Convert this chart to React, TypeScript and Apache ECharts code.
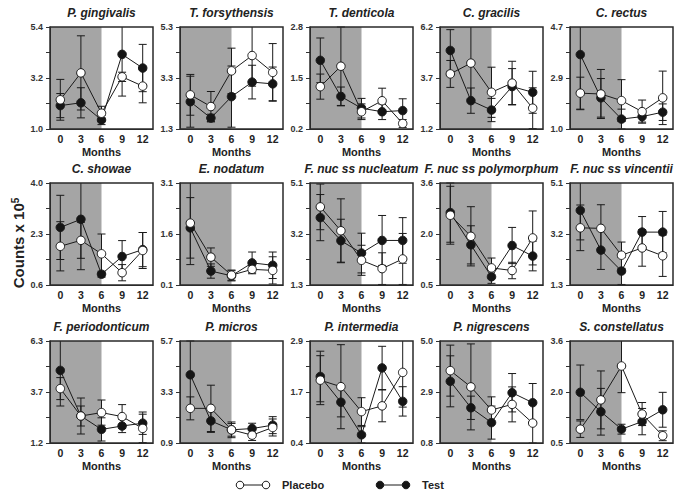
import React, { useEffect, useRef } from "react";
import * as echarts from "echarts";

const months = [0, 3, 6, 9, 12];
const taxa = [
  "P. gingivalis", "T. forsythensis", "T. denticola", "C. gracilis", "C. rectus",
  "C. showae", "E. nodatum", "F. nuc ss nucleatum", "F. nuc ss polymorphum", "F. nuc ss vincentii",
  "F. periodonticum", "P. micros", "P. intermedia", "P. nigrescens", "S. constellatus",
];
const yTickLabels = [
  ["1.0", "3.2", "5.4"], ["1.3", "3.3", "5.3"], ["0.2", "1.5", "2.8"], ["1.2", "3.7", "6.2"], ["1.0", "2.9", "4.7"],
  ["0.6", "2.3", "4.0"], ["0.1", "1.6", "3.1"], ["1.3", "3.2", "5.1"], ["0.5", "2.0", "3.6"], ["1.3", "3.2", "5.1"],
  ["1.2", "3.7", "6.3"], ["0.9", "3.3", "5.7"], ["0.4", "1.7", "2.9"], ["0.8", "2.9", "5.0"], ["0.5", "2.0", "3.6"],
];
const placeboMean = [
  [2.26, 3.42, 1.68, 3.25, 2.85],
  [2.64, 2.18, 3.58, 4.18, 3.52],
  [1.28, 1.80, 0.64, 0.92, 0.34],
  [3.90, 4.43, 3.00, 3.45, 2.22],
  [2.30, 2.27, 2.03, 1.63, 2.13],
  [1.89, 2.09, 1.64, 1.01, 1.75],
  [1.92, 0.92, 0.39, 0.56, 0.53],
  [4.21, 3.32, 2.22, 1.91, 2.27],
  [2.62, 1.98, 1.02, 0.94, 1.93],
  [3.43, 3.41, 2.41, 2.68, 2.39],
  [3.92, 2.55, 2.72, 2.52, 1.93],
  [2.53, 2.53, 1.52, 1.27, 1.63],
  [1.94, 1.78, 1.17, 1.31, 2.13],
  [3.78, 3.11, 2.16, 2.39, 1.62],
  [0.92, 1.81, 2.84, 1.38, 0.72],
];
const placeboErr = [
  [0.88, 1.6, 0.3, 0.2, 0.72],
  [0.8, 0.59, 0.89, 1.2, 1.13],
  [0.32, 1.0, 0.2, 0.32, 0.1],
  [0.66, 1.8, 1.23, 1.07, 1.0],
  [0.58, 0.89, 0.76, 0.42, 0.97],
  [0.82, 0.6, 0.66, 0.27, 0.6],
  [1.22, 0.27, 0.15, 0.1, 0.4],
  [0.85, 1.19, 0.56, 0.59, 0.95],
  [0.88, 0.9, 0.3, 0.25, 0.82],
  [0.85, 0.88, 0.49, 0.68, 0.77],
  [0.55, 0.5, 0.63, 0.6, 0.71],
  [0.54, 1.09, 0.3, 0.25, 0.4],
  [0.6, 1.03, 0.34, 0.39, 0.85],
  [1.05, 1.77, 0.54, 0.72, 0.82],
  [0.25, 0.88, 0.81, 0.35, 0.15],
];
const testMean = [
  [2.01, 2.13, 1.39, 4.22, 3.63],
  [2.37, 1.73, 2.57, 3.14, 3.07],
  [1.95, 1.03, 0.73, 0.64, 0.67],
  [5.05, 2.59, 2.13, 3.28, 3.0],
  [3.7, 2.13, 1.36, 1.45, 1.61],
  [2.52, 2.79, 0.96, 1.55, 1.78],
  [1.78, 0.51, 0.37, 0.75, 0.68],
  [3.81, 2.95, 2.49, 2.96, 2.96],
  [2.7, 1.72, 0.75, 1.7, 1.38],
  [4.08, 2.6, 1.82, 3.27, 3.27],
  [4.83, 2.55, 1.88, 2.05, 2.19],
  [4.11, 1.94, 1.52, 1.58, 1.74],
  [2.03, 1.4, 0.6, 2.24, 1.42],
  [3.34, 2.25, 1.64, 2.87, 2.46],
  [2.04, 1.45, 0.92, 1.15, 1.51],
];
const testErr = [
  [0.52, 0.65, 0.2, 1.8, 1.02],
  [1.0, 0.15, 1.2, 0.66, 0.66],
  [0.57, 0.24, 0.25, 0.2, 0.3],
  [1.02, 0.62, 0.57, 0.88, 1.03],
  [2.0, 0.7, 0.36, 0.2, 0.3],
  [1.07, 1.68, 0.1, 0.53, 0.57],
  [0.89, 0.21, 0.15, 0.32, 0.39],
  [0.86, 0.8, 0.74, 0.93, 0.85],
  [0.9, 0.58, 0.2, 0.55, 0.45],
  [1.1, 0.72, 0.5, 0.58, 0.77],
  [1.78, 0.9, 0.58, 0.33, 0.56],
  [1.6, 0.54, 0.37, 0.25, 0.4],
  [0.62, 0.36, 0.2, 0.53, 0.36],
  [1.05, 0.48, 0.68, 0.79, 0.79],
  [0.83, 0.71, 0.15, 0.4, 0.53],
];
const seriesNames = ["Placebo", "Test"];
const shadeEnd = 6;

const FONT = "'Liberation Sans', Arial, Helvetica, sans-serif";
const INK = "#222";
const GRID_LEFTS = [50, 180, 310, 440, 570];
const GRID_TOPS = [27, 183, 341];
const GW = 103;
const GH = 102;
const X_MIN = -1.5;
const X_MAX = 13.5;

function errRender(params: any, api: any) {
  const x = api.value(0);
  const lo = api.value(1);
  const hi = api.value(2);
  const top = api.coord([x, hi]);
  const bot = api.coord([x, lo]);
  const cs = params.coordSys;
  const yT = cs.y;
  const yB = cs.y + cs.height;
  let y1 = top[1];
  let y2 = bot[1];
  const capTop = y1 >= yT - 0.5;
  const capBot = y2 <= yB + 0.5;
  y1 = Math.max(y1, yT);
  y2 = Math.min(y2, yB);
  const cx = top[0];
  const hw = 4;
  const st = { stroke: "#1a1a1a", lineWidth: 1 };
  const children: any[] = [
    { type: "line", shape: { x1: cx, y1, x2: cx, y2 }, style: st },
  ];
  if (capTop) children.push({ type: "line", shape: { x1: cx - hw, y1, x2: cx + hw, y2: y1 }, style: st });
  if (capBot) children.push({ type: "line", shape: { x1: cx - hw, y1: y2, x2: cx + hw, y2 }, style: st });
  return { type: "group", children };
}

function buildOption() {
  const grids: any[] = [];
  const xAxes: any[] = [];
  const yAxes: any[] = [];
  const series: any[] = [];
  const graphics: any[] = [];

  taxa.forEach((name, i) => {
    const row = Math.floor(i / 5);
    const col = i % 5;
    const left = GRID_LEFTS[col];
    const top = GRID_TOPS[row];
    const labels = yTickLabels[i];
    const yMin = parseFloat(labels[0]);
    const yMax = parseFloat(labels[2]);
    const q = (yMax - yMin) / 4;
    const labelVals = [yMin, yMin + 2 * q, yMax];
    const tickVals = [yMin, yMin + q, yMin + 2 * q, yMin + 3 * q, yMax];

    grids.push({ left, top, width: GW, height: GH, containLabel: false, outerBoundsMode: "none", show: false });
    xAxes.push({
      type: "value",
      gridIndex: i,
      min: X_MIN,
      max: X_MAX,
      z: 5,
      axisLine: { show: true, onZero: false, lineStyle: { color: "#333", width: 1 } },
      axisTick: { show: false },
      splitLine: { show: false },
      axisLabel: {
        customValues: months,
        fontFamily: FONT,
        fontSize: 10.5,
        fontWeight: "bold",
        color: INK,
        margin: 4,
      },
      name: "Months",
      nameLocation: "middle",
      nameGap: 17,
      nameTextStyle: { fontFamily: FONT, fontSize: 11, fontWeight: "bold", color: INK },
    });
    yAxes.push({
      type: "value",
      gridIndex: i,
      min: yMin,
      max: yMax,
      z: 5,
      axisLine: { show: true, onZero: false, lineStyle: { color: "#333", width: 1 } },
      axisTick: { show: true, customValues: tickVals, length: 4, lineStyle: { color: "#333" } },
      splitLine: { show: false },
      axisLabel: {
        customValues: labelVals,
        fontFamily: FONT,
        fontSize: 9,
        fontWeight: "bold",
        color: "#333",
        margin: 7,
        formatter: (v: number) => {
          let best = 0;
          labelVals.forEach((lv, k) => {
            if (Math.abs(lv - v) < Math.abs(labelVals[best] - v)) best = k;
          });
          return labels[best];
        },
      },
    });

    const means = [placeboMean[i], testMean[i]];
    const errs = [placeboErr[i], testErr[i]];

    means.forEach((m, s) => {
      series.push({
        type: "custom",
        name: seriesNames[s] + " error",
        xAxisIndex: i,
        yAxisIndex: i,
        z: 3,
        silent: true,
        renderItem: errRender,
        encode: { x: 0, y: [1, 2] },
        data: months.map((mo, k) => [mo, m[k] - errs[s][k], m[k] + errs[s][k]]),
      });
    });

    means.forEach((m, s) => {
      const isTest = s === 1;
      const ser: any = {
        type: "line",
        name: seriesNames[s],
        xAxisIndex: i,
        yAxisIndex: i,
        z: isTest ? 4 : 5,
        symbol: "circle",
        symbolSize: 8.5,
        showAllSymbol: true,
        clip: false,
        lineStyle: { color: "#1a1a1a", width: 1 },
        itemStyle: {
          color: isTest ? "#151515" : "#ffffff",
          borderColor: "#1a1a1a",
          borderWidth: 1,
        },
        data: months.map((mo, k) => [mo, m[k]]),
      };
      if (!isTest) {
        ser.markArea = {
          silent: true,
          itemStyle: { color: "#a5a5a5" },
          data: [[{ xAxis: X_MIN }, { xAxis: shadeEnd }]],
        };
      }
      series.push(ser);
    });

    graphics.push({
      type: "rect",
      z: 100,
      silent: true,
      shape: { x: left, y: top, width: GW, height: GH },
      style: { fill: "none", stroke: "#2a2a2a", lineWidth: 1.5 },
    });
    graphics.push({
      type: "text",
      z: 100,
      x: left + GW / 2,
      y: top - 14,
      style: {
        text: name,
        fontFamily: FONT,
        fontSize: 12,
        fontWeight: "bold",
        fontStyle: "italic",
        fill: INK,
        align: "center",
        verticalAlign: "middle",
      },
    });
  });

  graphics.push({
    type: "text",
    z: 100,
    x: 18,
    y: 243,
    rotation: Math.PI / 2,
    style: {
      text: "Counts x 10{s|5}",
      fontFamily: FONT,
      fontSize: 15,
      fontWeight: "bold",
      fill: INK,
      align: "center",
      verticalAlign: "middle",
      rich: { s: { fontFamily: FONT, fontSize: 10, fontWeight: "bold", fill: INK, verticalAlign: "top" } },
    },
  });

  const legendItems = [
    { x1: 240, x2: 266, tx: 282, fill: "#ffffff", label: seriesNames[0] },
    { x1: 380, x2: 406, tx: 422, fill: "#151515", label: seriesNames[1] },
  ];
  legendItems.forEach((it) => {
    graphics.push({ type: "line", z: 100, shape: { x1: it.x1, y1: 485, x2: it.x2, y2: 485 }, style: { stroke: "#1a1a1a", lineWidth: 1 } });
    [it.x1, it.x2].forEach((cx) =>
      graphics.push({ type: "circle", z: 101, shape: { cx, cy: 485, r: 3.8 }, style: { fill: it.fill, stroke: "#1a1a1a", lineWidth: 1 } })
    );
    graphics.push({
      type: "text",
      z: 100,
      x: it.tx,
      y: 485,
      style: { text: it.label, fontFamily: FONT, fontSize: 11, fontWeight: "bold", fill: INK, align: "left", verticalAlign: "middle" },
    });
  });

  return {
    animation: false,
    backgroundColor: "#ffffff",
    grid: grids,
    xAxis: xAxes,
    yAxis: yAxes,
    series,
    graphic: graphics,
  };
}

export default function App() {
  const ref = useRef<HTMLDivElement | null>(null);
  useEffect(() => {
    if (!ref.current) return;
    const chart = echarts.init(ref.current, undefined, { renderer: "svg" });
    chart.setOption(buildOption() as any);
    return () => chart.dispose();
  }, []);
  return (
    <div
      ref={ref}
      style={{ position: "fixed", left: 0, top: 0, width: 679, height: 495, background: "#fff" }}
    />
  );
}
